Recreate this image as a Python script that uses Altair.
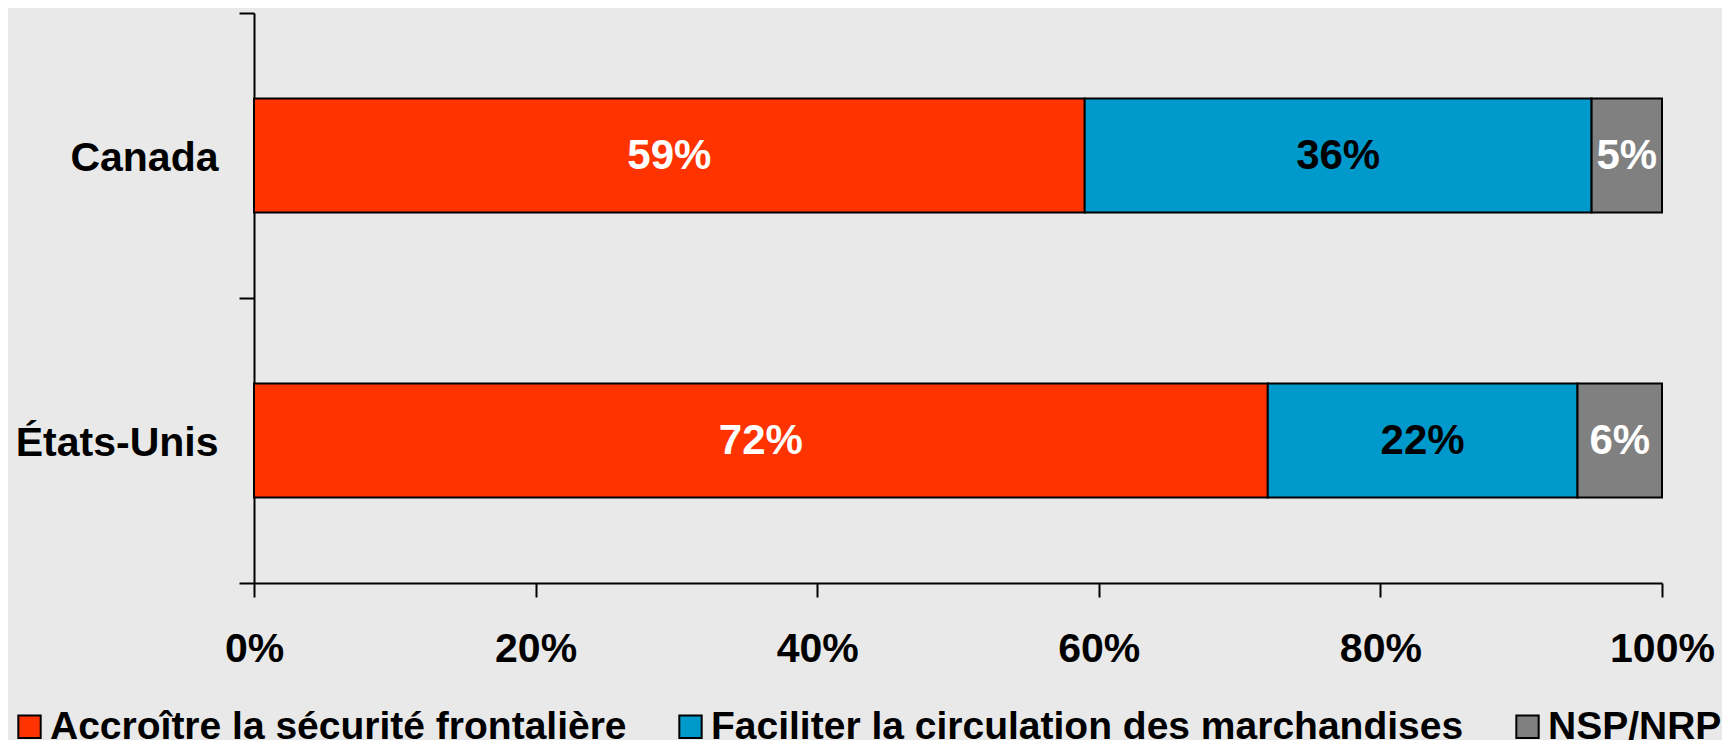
import altair as alt
import pandas as pd

countries = ["Canada", "États-Unis"]
categories = ["Accroître la sécurité frontalière",
              "Faciliter la circulation des marchandises",
              "NSP/NRP"]
canada_values = [59, 36, 5]
usa_values = [72, 22, 6]
colors = ["#FF3300", "#0099CC", "#808080"]
x_ticks = [0, 20, 40, 60, 80, 100]

rows = []
for country, vals in zip(countries, [canada_values, usa_values]):
    for i, (cat, v) in enumerate(zip(categories, vals)):
        rows.append({"country": country, "cat": cat, "value": v, "order": i})
df = pd.DataFrame(rows)

FONT = "Liberation Sans"

base = alt.Chart(df).transform_stack(
    stack="value", groupby=["country"], as_=["start", "end"],
    sort=[alt.SortField("order", order="ascending")]
).transform_calculate(mid="(datum.start + datum.end) / 2")

bars = base.mark_bar(stroke="black", strokeWidth=2, height={"band": 0.4}).encode(
    y=alt.Y("country:N", sort=countries, title=None,
            scale=alt.Scale(paddingInner=0, paddingOuter=0),
            axis=alt.Axis(labelFont=FONT, labelFontSize=41, labelFontWeight="bold",
                          labelColor="black", domainColor="black", domainWidth=2,
                          tickColor="black", tickWidth=2, tickSize=15, tickBand="extent",
                          labelPadding=21, labelLimit=0, labelOffset=3)),
    x=alt.X("start:Q", title=None,
            scale=alt.Scale(domain=[0, 100], nice=False),
            axis=alt.Axis(values=x_ticks, labelExpr="datum.value + '%'",
                          labelFont=FONT, labelFontSize=41, labelFontWeight="bold",
                          labelColor="black", domainColor="black", domainWidth=2,
                          tickColor="black", tickWidth=2, tickSize=14, labelPadding=32,
                          labelFlush=False, grid=False)),
    x2="end:Q",
    color=alt.Color("cat:N", sort=categories,
                    scale=alt.Scale(domain=categories, range=colors),
                    legend=alt.Legend(title=None, orient="none", direction="horizontal",
                                      legendX=-244, legendY=694,
                                      symbolType="square", symbolSize=500,
                                      symbolStrokeColor="black", symbolStrokeWidth=2,
                                      symbolOpacity=1,
                                      labelFont=FONT, labelFontSize=39, labelFontWeight="bold",
                                      labelColor="black", labelLimit=0, labelOffset=1,
                                      columnPadding=44)),
    order=alt.Order("order:Q"),
)

texts = base.mark_text(font=FONT, fontSize=42, fontWeight="bold", baseline="middle",
                       align="center").encode(
    y=alt.Y("country:N", sort=countries),
    x=alt.X("mid:Q"),
    text=alt.Text("label:N"),
    color=alt.condition(alt.datum.order == 1, alt.value("black"), alt.value("white")),
).transform_calculate(label="datum.value + '%'")

chart = alt.layer(bars, texts).properties(
    width=1408, height=570,
    autosize=alt.AutoSizeParams(type="none"),
    padding={"left": 246, "top": 5, "right": 60, "bottom": 157},
    background="#e9e9e9",
).configure_view(stroke=None)

chart.save("out.html", embed_options={"renderer": "svg", "actions": False})
